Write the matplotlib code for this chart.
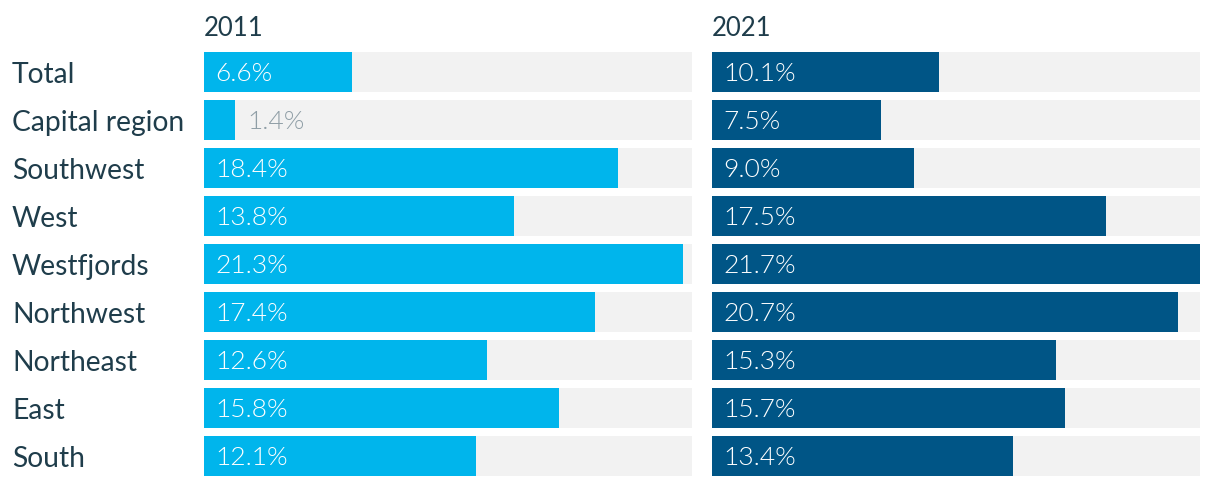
import matplotlib.pyplot as plt
from matplotlib.patches import Rectangle

regions = ["Total", "Capital region", "Southwest", "West", "Westfjords",
           "Northwest", "Northeast", "East", "South"]
years = ["2011", "2021"]
vals_2011 = [6.6, 1.4, 18.4, 13.8, 21.3, 17.4, 12.6, 15.8, 12.1]
vals_2021 = [10.1, 7.5, 9.0, 17.5, 21.7, 20.7, 15.3, 15.7, 13.4]

colors = ["#00b5ec", "#005586"]
bg = "#f2f2f2"
text_dark = "#1f3d4b"

W, H = 1220, 486
fig = plt.figure(figsize=(W / 100, H / 100), dpi=100)

xmax = max(vals_2011 + vals_2021)
panels = [(204, vals_2011), (712, vals_2021)]
panel_w = 488
top, pitch, bar_h = 52, 48, 40
n = len(regions)

for (left, vals), year, col in zip(panels, years, colors):
    ax = fig.add_axes([left / W, 1 - (top + (n - 1) * pitch + bar_h) / H,
                       panel_w / W, ((n - 1) * pitch + bar_h) / H])
    ax.set_xlim(0, xmax)
    span = (n - 1) * pitch + bar_h
    ax.set_ylim(span, 0)
    ax.axis("off")
    px_per = panel_w / xmax
    for i, v in enumerate(vals):
        y0 = i * pitch
        ax.add_patch(Rectangle((0, y0), xmax, bar_h, color=bg, lw=0))
        ax.add_patch(Rectangle((0, y0), v, bar_h, color=col, lw=0))
        if v * px_per > 70:
            x, c = 11 / px_per, "white"
        else:
            x, c = v + 12 / px_per, "#8f9ea6"
        ax.text(x, y0 + bar_h / 2 + 2, f"{v:.1f}%", color=c,
                fontsize=19, family="Lato", fontweight=300,
                va="center", ha="left")
    fig.text(left / W, 1 - 29 / H, year, color=text_dark, fontsize=18.5,
             family="Lato", va="center", ha="left")

for i, r in enumerate(regions):
    fig.text(12 / W, 1 - (top + i * pitch + bar_h / 2 + 3) / H, r, color=text_dark,
             fontsize=20.3, family="Lato", va="center", ha="left")

fig.savefig("out.png", dpi=100, facecolor="white")
